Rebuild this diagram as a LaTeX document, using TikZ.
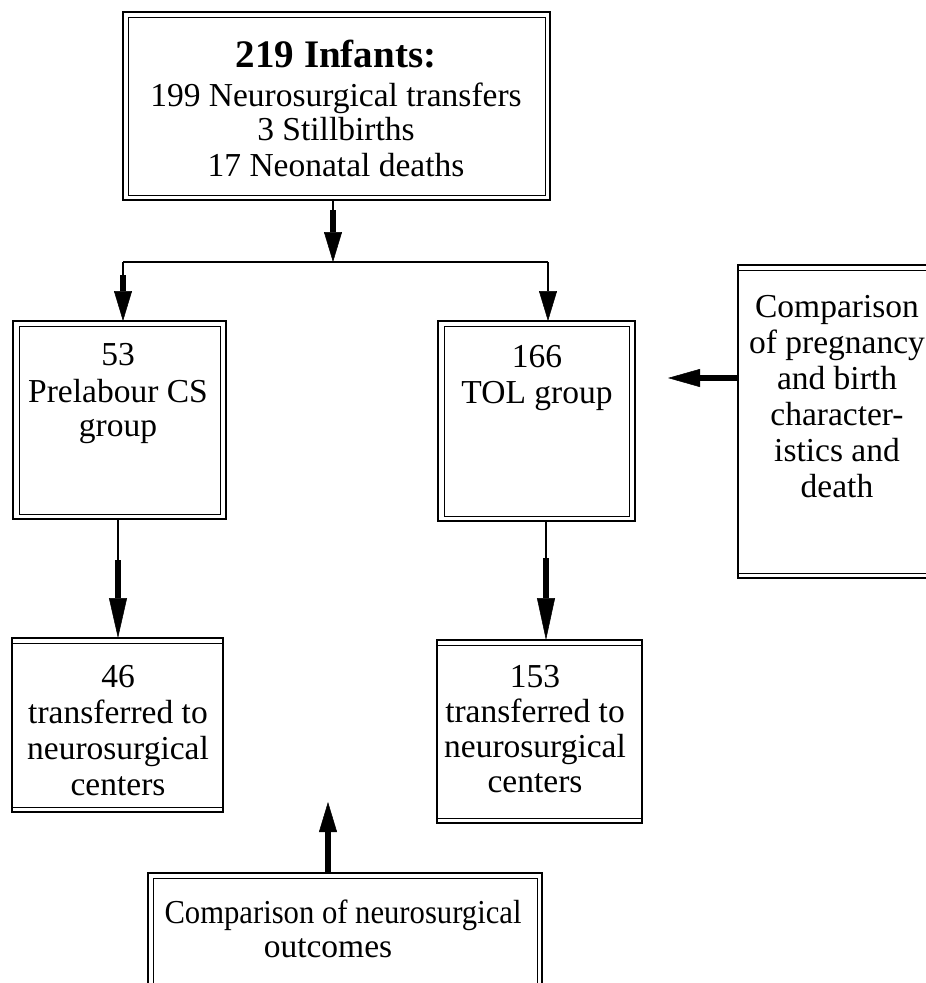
\documentclass[tikz,border=0pt]{standalone}
\usepackage{fontspec}
\setmainfont{Liberation Serif}
\usetikzlibrary{arrows.meta,calc}
\begin{document}
\begin{tikzpicture}[x=1pt,y=-1pt,
  box/.style={draw, line width=1.6pt, inner sep=0pt, outer sep=0pt, rectangle},
  innerline/.style={line width=0.9pt},
  txt/.style={inner sep=0pt, anchor=base, font=\fontsize{33.5}{35}\selectfont},
  ttl/.style={inner sep=0pt, anchor=base, font=\fontsize{39}{40}\selectfont\bfseries},
  conn/.style={line width=1.3pt},
  arrowtip/.style={-{Triangle[length=#1,width=18pt,line width=0.5pt]}},
  arrowtip/.default=30pt,
  fat/.style={line width=6pt},
]
\useasboundingbox (0,0) rectangle (926,983);

% ---------- boxes ----------
\node[box, minimum width=427pt, minimum height=188pt] (top) at (336.5,106) {};
\node[box, minimum width=213pt, minimum height=198pt] (prel) at (119.5,420) {};
\node[box, minimum width=197pt, minimum height=200pt] (tol) at (536.5,421) {};
\node[box, minimum width=207pt, minimum height=313pt] (cmp) at (841.5,421.5) {};
\node[box, minimum width=211pt, minimum height=174pt] (n46) at (117.5,725) {};
\node[box, minimum width=205pt, minimum height=183pt] (n153) at (539.5,731.5) {};
\node[box, minimum width=394pt, minimum height=137pt] (bot) at (345,941.5) {};

% inner lines (double borders)
\draw[innerline] ($(top.north west)+(5,5)$) rectangle ($(top.south east)+(-5,-5)$);
\draw[innerline] ($(prel.north west)+(6,5)$) rectangle ($(prel.south east)+(-6,-5)$);
\draw[innerline] ($(tol.north west)+(6,5)$) rectangle ($(tol.south east)+(-6,-5)$);
\draw[innerline] ($(cmp.north west)+(0,5)$) -- ($(cmp.north east)+(0,5)$);
\draw[innerline] ($(cmp.south west)+(0,-5)$) -- ($(cmp.south east)+(0,-5)$);
\draw[innerline] ($(n46.north west)+(0,5)$) -- ($(n46.north east)+(0,5)$);
\draw[innerline] ($(n46.south west)+(0,-5)$) -- ($(n46.south east)+(0,-5)$);
\draw[innerline] ($(n153.north west)+(0,5)$) -- ($(n153.north east)+(0,5)$);
\draw[innerline] ($(n153.south west)+(0,-5)$) -- ($(n153.south east)+(0,-5)$);
\draw[innerline] ($(bot.south west)+(5,0)$) -- ($(bot.north west)+(5,5)$)
  -- ($(bot.north east)+(-5,5)$) -- ($(bot.south east)+(-5,0)$);

% ---------- texts ----------
\node[ttl] (t0) at (336,67) {219 Infants:};
\node[txt] (t1) at (336,106) {199 Neurosurgical transfers};
\node[txt] (t2) at (336,140) {3 Stillbirths};
\node[txt] (t3) at (336,176) {17 Neonatal deaths};

\node[txt] (p1) at (118,365) {53};
\node[txt] (p2) at (118,402) {Prelabour CS};
\node[txt] (p3) at (118,436) {group};

\node[txt] (o1) at (537,367) {166};
\node[txt] (o2) at (537,403) {TOL group};

\node[txt] (c1) at (837,317) {Comparison};
\node[txt] (c2) at (837,353) {of pregnancy};
\node[txt] (c3) at (837,389) {and birth};
\node[txt] (c4) at (837,425) {character-};
\node[txt] (c5) at (837,461) {istics and};
\node[txt] (c6) at (837,497) {death};

\node[txt] (a1) at (118,687) {46};
\node[txt] (a2) at (118,723) {transferred to};
\node[txt] (a3) at (118,759) {neurosurgical};
\node[txt] (a4) at (118,795) {centers};

\node[txt] (b1) at (535,687) {153};
\node[txt] (b2) at (535,722) {transferred to};
\node[txt] (b3) at (535,757) {neurosurgical};
\node[txt] (b4) at (535,792) {centers};

\node[txt] (d1) at (343,923) {\scalebox{0.915}[1]{Comparison of neurosurgical}};
\node[txt] (d2) at (328,957) {outcomes};

% ---------- connectors ----------
\coordinate (jn) at (333,262);
\coordinate (jl) at (123,262);
\coordinate (jr) at (548,262);
\coordinate (ctip) at (668,378);
\coordinate (btip) at (328,802);

% top -> junction
\draw[conn] (jn |- top.south) -- ++(0,10) coordinate (s1);
\draw[fat, arrowtip] (s1) -- (jn);
% horizontal split
\draw[conn] (jl) -- (jr);
% junction -> prelabour
\draw[conn] (jl) -- ++(0,13) coordinate (s2);
\draw[fat, arrowtip] (s2) -- (jl |- prel.north);
% junction -> TOL
\draw[conn, arrowtip] (jr) -- (jr |- tol.north);
% prelabour -> 46
\draw[conn] (118,519) -- (118,560) coordinate (s3);
\draw[fat, arrowtip=40pt] (s3) -- (s3 |- n46.north);
% TOL -> 153
\draw[conn] (546,521) -- (546,558) coordinate (s4);
\draw[fat, arrowtip=42pt] (s4) -- (s4 |- n153.north);
% comparison -> TOL group
\draw[fat, arrowtip=32pt] (cmp.west |- ctip) -- (ctip);
% bottom comparison -> up
\draw[fat, arrowtip=30pt] (btip |- bot.north) -- (btip);
\end{tikzpicture}
\end{document}
